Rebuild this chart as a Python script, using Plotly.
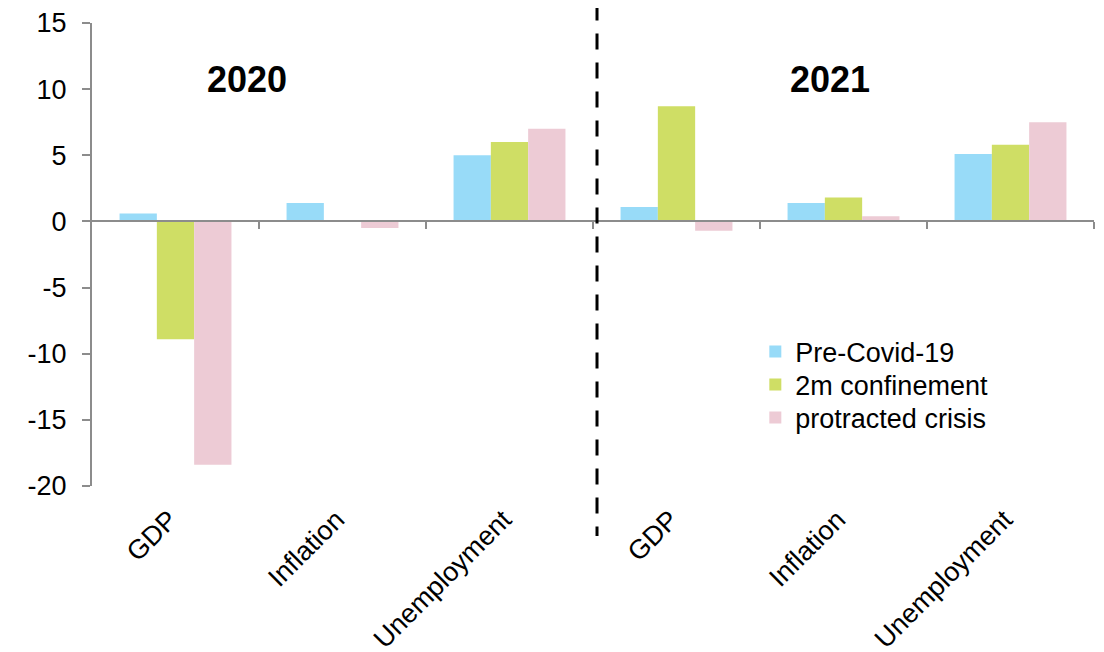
import plotly.graph_objects as go

categories = ["GDP", "Inflation", "Unemployment", "GDP", "Inflation", "Unemployment"]
x_pos = [0, 1, 2, 3, 4, 5]
pre_covid = [0.6, 1.4, 5.0, 1.1, 1.4, 5.1]
confinement = [-8.9, 0.0, 6.0, 8.7, 1.8, 5.8]
protracted = [-18.4, -0.5, 7.0, -0.7, 0.4, 7.5]
series_names = ["Pre-Covid-19", "2m confinement", "protracted crisis"]
colors = ["#98DBF8", "#CFDE65", "#EDCBD5"]
years = ["2020", "2021"]
y_ticks = [-20, -15, -10, -5, 0, 5, 10, 15]
y_tick_text = ["-20", "-15", "-10", "-5", "0", "5", "10", "15"]

FONT = "Liberation Sans, Arial, sans-serif"
GRAY = "#8C8C8C"
FS = 27

fig = go.Figure()
legend_ids = ["legend", "legend2", "legend3"]
for name, vals, col, lg in zip(series_names, [pre_covid, confinement, protracted], colors, legend_ids):
    fig.add_trace(go.Bar(x=x_pos, y=vals, name=name, legend=lg,
                         marker=dict(color=col, line=dict(width=0))))

y_min, y_max = -20, 15
zero_pos = (0 - y_min) / (y_max - y_min)

M_L, M_R, M_T, M_B = 84, 18, 15, 174
plot_h = 652 - M_T - M_B
plot_bottom_screen = 8 + 652 - M_B
leg_common = dict(x=0.662, xanchor="left", yanchor="middle",
                  font=dict(size=FS, family=FONT), bgcolor="rgba(0,0,0,0)",
                  itemwidth=30)
leg_y0 = (plot_bottom_screen - 352) / plot_h
step = 33 / plot_h

fig.update_layout(
    width=1104, height=652,
    margin=dict(l=M_L, r=M_R, t=M_T, b=M_B, autoexpand=False),
    paper_bgcolor="white", plot_bgcolor="white",
    barmode="group", bargap=0.33, bargroupgap=0,
    font=dict(family=FONT, size=FS, color="black"),
    showlegend=True,
    legend=dict(y=leg_y0, **leg_common),
    legend2=dict(y=leg_y0 - step, **leg_common),
    legend3=dict(y=leg_y0 - 2 * step, **leg_common),
    xaxis=dict(range=[-0.5, 5.5], tickvals=x_pos, ticktext=categories,
               tickangle=-45, showline=False, showgrid=False, zeroline=False,
               ticks="outside", ticklen=6, tickcolor="rgba(0,0,0,0)",
               ticklabelshift=-6, automargin=False,
               tickfont=dict(size=FS, family=FONT)),
    xaxis2=dict(range=[-0.5, 5.5], overlaying="x", anchor="free", position=zero_pos,
                side="bottom", showline=True, linecolor=GRAY, linewidth=2,
                tickvals=[0.5, 1.5, 2.5, 3.5, 4.5, 5.5], ticks="outside",
                ticklen=7, tickwidth=2, tickcolor=GRAY, showticklabels=False,
                showgrid=False, zeroline=False, automargin=False),
    yaxis=dict(range=[y_min, y_max], tickvals=y_ticks, ticktext=y_tick_text,
               showgrid=False, automargin=False,
               zeroline=False, showline=True, linecolor=GRAY, linewidth=2,
               ticks="outside", ticklen=8, tickwidth=2, tickcolor=GRAY,
               ticklabelstandoff=10,
               tickfont=dict(size=FS, family=FONT)),
)

# invisible trace to make xaxis2 render
fig.add_trace(go.Scatter(x=[-0.5, 5.5], y=[0, 0], xaxis="x2", yaxis="y",
                         mode="lines", line=dict(width=0), showlegend=False,
                         hoverinfo="skip"))

for label, xc in zip(years, [0.43, 3.92]):
    fig.add_annotation(x=xc, y=10.7, xref="x", yref="y", text="<b>%s</b>" % label,
                       showarrow=False, font=dict(size=36, family=FONT, color="black"))

fig.add_shape(type="line", xref="x", yref="paper", x0=2.524, x1=2.524, y0=1.04, y1=-0.108,
              line=dict(color="black", width=3, dash="16px,13px"), layer="above")

fig.write_html("out.html")
